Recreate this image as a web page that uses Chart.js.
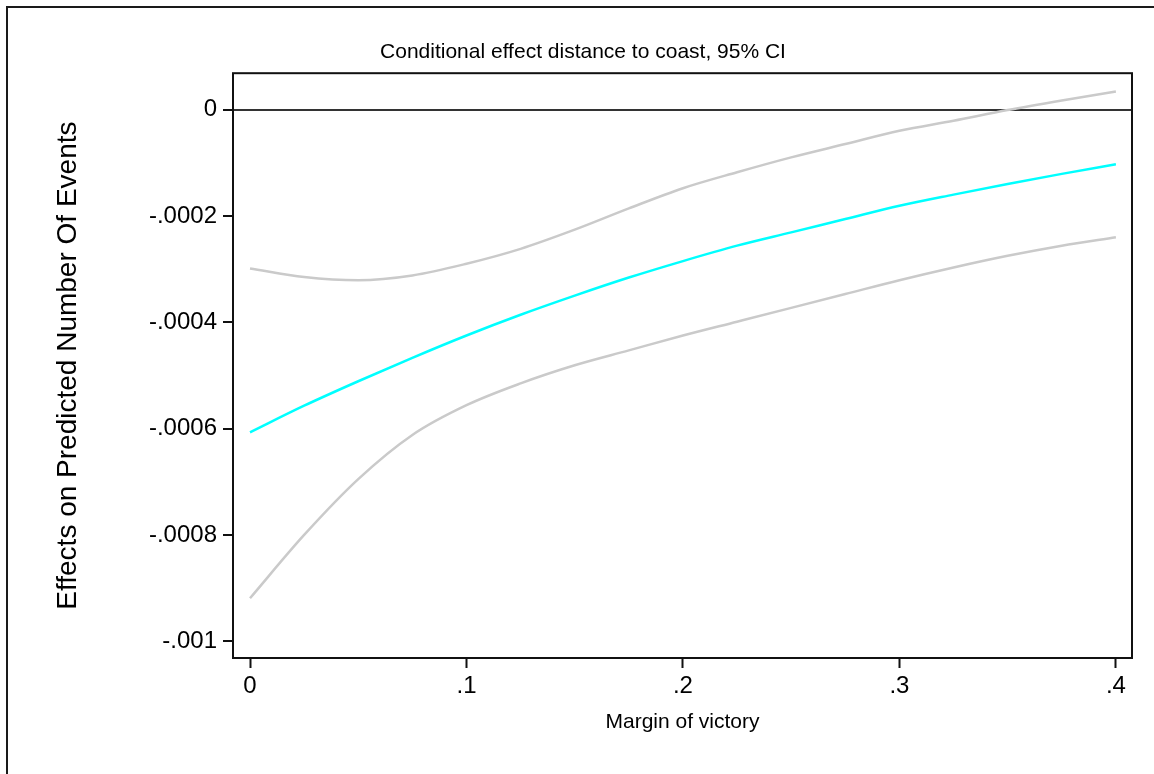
<!DOCTYPE html>
<html>
<head>
<meta charset="utf-8">
<script src="https://cdn.jsdelivr.net/npm/chart.js@4"></script>
<style>
  html, body { margin: 0; padding: 0; background: #fff; }
  #wrap { position: relative; width: 1154px; height: 774px; overflow: hidden; background: #fff; }
  #frame { position: absolute; left: 6px; top: 6px; width: 1300px; height: 900px; border: 2px solid #1a1a1a; }
  canvas { position: absolute; left: 0; top: 0; }
</style>
</head>
<body>
<div id="wrap">
  <div id="frame"></div>
  <canvas id="myChart" width="1154" height="774"></canvas>
</div>
<script>
var margins = [0, 0.025, 0.05, 0.075, 0.1, 0.125, 0.15, 0.175, 0.2, 0.225, 0.25, 0.275, 0.3, 0.325, 0.35, 0.375, 0.4];

// Conditional effect (cyan) and the 95% CI bounds (grey)
var effect = [-0.000607, -0.000557, -0.000511, -0.000467, -0.000425, -0.000386, -0.000350, -0.000316, -0.000285,
              -0.000256, -0.000231, -0.000206, -0.000181, -0.000160, -0.000140, -0.000121, -0.000103];
var upperCI = [-0.000299, -0.000315, -0.000321, -0.000312, -0.000290, -0.000262, -0.000226, -0.000186, -0.000148,
               -0.000118, -0.000090, -0.000065, -0.000040, -0.000021, -0.000001, 0.000017, 0.000034];
var lowerCI = [-0.000919, -0.000800, -0.000695, -0.000612, -0.000556, -0.000515, -0.000481, -0.000453, -0.000425,
               -0.000399, -0.000373, -0.000347, -0.000321, -0.000297, -0.000275, -0.000256, -0.000240];

// Tick values and their printed labels
var xTicks = [0, 0.1, 0.2, 0.3, 0.4];
var xTickLabels = ['0', '.1', '.2', '.3', '.4'];
var yTicks = [0, -0.0002, -0.0004, -0.0006, -0.0008, -0.001];
var yTickLabels = ['0', '-.0002', '-.0004', '-.0006', '-.0008', '-.001'];

function toPoints(ys) {
    return margins.map(function(m, i) { return { x: m, y: ys[i] }; });
}

var FONT = '"Liberation Sans", Arial, Helvetica, sans-serif';

// box round the plot region
var plotBox = {
    id: 'plotBox',
    afterDatasetsDraw: function(chart) {
        var a = chart.chartArea, c = chart.ctx;
        c.save();
        c.strokeStyle = '#111';
        c.lineWidth = 2;
        c.strokeRect(a.left, a.top, a.right - a.left, a.bottom - a.top);
        c.restore();
    }
};

var ctx = document.getElementById('myChart').getContext('2d');

var myChart = new Chart(ctx, {
    type: 'line',
    data: {
        datasets: [
            { label: 'upper', data: toPoints(upperCI), borderColor: '#cacaca', borderWidth: 2.5 },
            { label: 'lower', data: toPoints(lowerCI), borderColor: '#cacaca', borderWidth: 2.5 },
            { label: 'effect', data: toPoints(effect), borderColor: '#00ffff', borderWidth: 2.5 }
        ]
    },
    options: {
        responsive: false,
        animation: false,
        // left padding also shifts the centred title to where the original has it
        layout: { padding: { left: 34, right: 22, top: 0, bottom: 0 } },
        elements: {
            point: { radius: 0 },
            line: { tension: 0.4, cubicInterpolationMode: 'monotone' }
        },
        scales: {
            x: {
                type: 'linear',
                min: -0.00786,
                max: 0.40744,
                afterFit: function(scale) { scale.height = 116; },
                afterBuildTicks: function(scale) {
                    scale.ticks = xTicks.map(function(v) { return { value: v }; });
                },
                grid: { drawOnChartArea: false, tickLength: 10, tickColor: '#111', tickWidth: 2 },
                border: { display: false },
                ticks: {
                    color: '#000',
                    font: { family: FONT, size: 24 },
                    padding: 4,
                    maxRotation: 0,
                    callback: function(value) {
                        var i = xTicks.indexOf(value);
                        return i >= 0 ? xTickLabels[i] : '';
                    }
                },
                title: {
                    display: true,
                    text: 'Margin of victory',
                    color: '#000',
                    font: { family: FONT, size: 21 },
                    padding: { top: 0, bottom: 39 }
                }
            },
            y: {
                min: -0.0010314,
                max: 0.0000683,
                afterFit: function(scale) { scale.width = 199; },
                afterBuildTicks: function(scale) {
                    scale.ticks = yTicks.map(function(v) { return { value: v }; });
                },
                grid: {
                    drawOnChartArea: true,
                    // only the zero line is drawn across the plot
                    color: function(c) { return c.tick && c.tick.value === 0 ? '#333' : 'rgba(0,0,0,0)'; },
                    lineWidth: 2,
                    tickLength: 10,
                    tickColor: '#111',
                    tickWidth: 2
                },
                border: { display: false },
                ticks: {
                    color: '#000',
                    font: { family: FONT, size: 24 },
                    padding: 6,
                    callback: function(value) {
                        var i = yTicks.indexOf(value);
                        return i >= 0 ? yTickLabels[i] : '';
                    }
                },
                title: {
                    display: true,
                    text: 'Effects on Predicted Number Of Events',
                    color: '#000',
                    font: { family: FONT, size: 28 },
                    padding: { top: 17, bottom: 0 }
                }
            }
        },
        plugins: {
            legend: { display: false },
            tooltip: { enabled: false },
            title: {
                display: true,
                text: 'Conditional effect distance to coast, 95% CI',
                color: '#000',
                font: { family: FONT, size: 21, weight: 'normal' },
                padding: { top: 40, bottom: 8 }
            }
        }
    },
    plugins: [plotBox]
});
</script>
</body>
</html>
